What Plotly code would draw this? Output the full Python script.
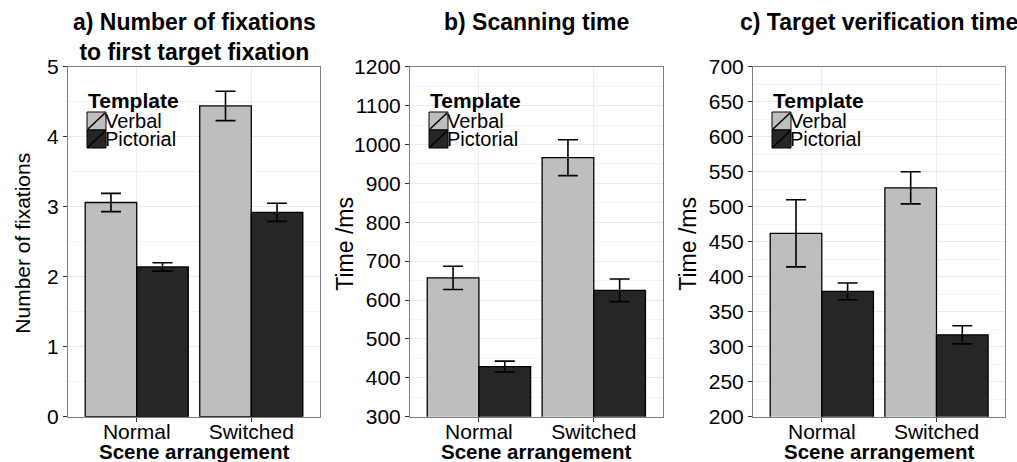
import plotly.graph_objects as go

# ---------------- data ----------------
categories = ["Normal", "Switched"]
templates = ["Verbal", "Pictorial"]

fix_verbal = [3.06, 4.44]
fix_verbal_err = [0.13, 0.21]
fix_pict = [2.14, 2.92]
fix_pict_err = [0.06, 0.13]

scan_verbal = [657, 966]
scan_verbal_err = [30, 46]
scan_pict = [429, 625]
scan_pict_err = [14, 29]

verif_verbal = [462, 527]
verif_verbal_err = [48, 23]
verif_pict = [379, 317]
verif_pict_err = [12, 13]

panel_titles = ["<b>a) Number of fixations<br>to first target fixation</b>",
                "<b>b) Scanning time</b>",
                "<b>c) Target verification time</b>"]
y_titles = ["Number of fixations", "Time /ms", "Time /ms"]
y_ranges = [[0, 5], [300, 1200], [200, 700]]
y_dticks = [1, 100, 50]
x_title = "<b>Scene arrangement</b>"
legend_title = "<b>Template</b>"

# ---------------- styling ----------------
W, H = 1017, 462
FONT = "Liberation Sans, Arial, sans-serif"
VERBAL_COLOR = "#BEBEBE"
PICT_COLOR = "#262626"


def px(x):
    return x / W


def py(y):
    return 1 - y / H


panel_lr = [(68, 320), (410, 662.7), (753, 1005.3)]
ytitle_x = [23, 345, 688]
ytitle_size = [21, 23, 23]
top_px, bot_px = 66.7, 416.7

fig = go.Figure()

series = [
    (fix_verbal, fix_verbal_err, fix_pict, fix_pict_err),
    (scan_verbal, scan_verbal_err, scan_pict, scan_pict_err),
    (verif_verbal, verif_verbal_err, verif_pict, verif_pict_err),
]

for i, (vv, ve, pv, pe) in enumerate(series):
    sfx = "" if i == 0 else str(i + 1)
    for name, vals, errs, col in [(templates[0], vv, ve, VERBAL_COLOR),
                                  (templates[1], pv, pe, PICT_COLOR)]:
        fig.add_trace(go.Bar(
            x=categories, y=vals, name=name, showlegend=False,
            marker=dict(color=col, line=dict(color="black", width=1.3)),
            error_y=dict(type="data", array=errs, color="black",
                         thickness=1.6, width=10),
            xaxis="x" + sfx, yaxis="y" + sfx,
        ))

layout = dict(
    width=W, height=H,
    margin=dict(l=0, r=0, t=0, b=0, autoexpand=False),
    paper_bgcolor="white", plot_bgcolor="white",
    barmode="group", bargap=0.1, bargroupgap=0,
    font=dict(family=FONT, color="black"),
    showlegend=False,
)

annotations = []
shapes = []
for i in range(3):
    sfx = "" if i == 0 else str(i + 1)
    L, R = panel_lr[i]
    layout["xaxis" + sfx] = dict(
        domain=[px(L), px(R)], anchor="y" + sfx,
        type="category", range=[-0.6, 1.6], automargin=False,
        showgrid=True, gridcolor="#EBEBEB", gridwidth=1,
        showline=True, mirror=True, linecolor="#7F7F7F", linewidth=1,
        ticks="outside", ticklen=4, tickcolor="#333333",
        ticklabelstandoff=-8,
        tickfont=dict(size=21, color="black", family=FONT),
        zeroline=False, fixedrange=True,
    )
    layout["yaxis" + sfx] = dict(
        domain=[py(bot_px), py(top_px)], anchor="x" + sfx,
        range=y_ranges[i], dtick=y_dticks[i], tick0=0, automargin=False,
        showgrid=True, gridcolor="#EBEBEB", gridwidth=1,
        minor=dict(dtick=y_dticks[i] / 2, showgrid=True,
                   gridcolor="#F4F4F4", gridwidth=1, ticks=""),
        showline=True, mirror=True, linecolor="#7F7F7F", linewidth=1,
        ticks="outside", ticklen=4, tickcolor="#333333",
        tickfont=dict(size=21, color="black", family=FONT),
        zeroline=False, fixedrange=True,
    )
    cx = (L + R) / 2
    # panel title
    annotations.append(dict(
        text=panel_titles[i], x=px(cx), y=py(7), xref="paper", yref="paper",
        xanchor="center", yanchor="top", showarrow=False,
        font=dict(size=23, family=FONT, color="black"), align="center",
    ))
    # y-axis title
    annotations.append(dict(
        text=y_titles[i], x=px(ytitle_x[i]), y=py((top_px + bot_px) / 2 + 2),
        xref="paper", yref="paper", xanchor="center", yanchor="middle",
        textangle=-90, showarrow=False,
        font=dict(size=ytitle_size[i], family=FONT, color="black"),
    ))
    # x-axis title
    annotations.append(dict(
        text=x_title, x=px(cx), y=py(451), xref="paper", yref="paper",
        xanchor="center", yanchor="middle", showarrow=False,
        font=dict(size=20.5, family=FONT, color="black"),
    ))
    # manual legend
    annotations.append(dict(
        text=legend_title, x=px(L + 18), y=py(100), xref="paper", yref="paper",
        xanchor="left", yanchor="middle", showarrow=False,
        font=dict(size=21, family=FONT, color="black"),
    ))
    rows = [(112, 130, VERBAL_COLOR, templates[0]),
            (130, 148, PICT_COLOR, templates[1])]
    for y0, y1, col, lab in rows:
        x0, x1 = L + 19, L + 38
        shapes.append(dict(type="rect", xref="paper", yref="paper",
                           x0=px(x0), x1=px(x1), y0=py(y1), y1=py(y0),
                           fillcolor=col, line=dict(color="black", width=1)))
        shapes.append(dict(type="line", xref="paper", yref="paper",
                           x0=px(x0 + 1), x1=px(x1 - 1), y0=py(y1 - 1), y1=py(y0 + 1),
                           line=dict(color="black", width=1.5)))
        annotations.append(dict(
            text=lab, x=px(x1 - 3), y=py((y0 + y1) / 2), xref="paper", yref="paper",
            xanchor="left", yanchor="middle", showarrow=False,
            font=dict(size=20, family=FONT, color="black"),
        ))

layout["annotations"] = annotations
layout["shapes"] = shapes
fig.update_layout(**layout)

fig.write_html(
    "out.html",
    config={"displayModeBar": False},
    post_script="document.body.style.margin='0';document.body.style.padding='0';"
                "document.body.style.overflow='hidden';",
)
